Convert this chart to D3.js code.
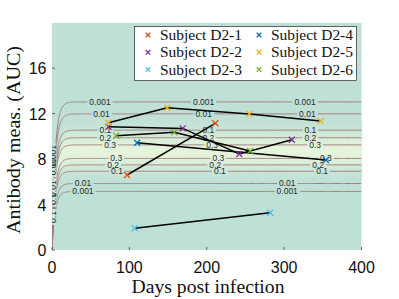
<!DOCTYPE html>
<html>
<head>
<meta charset="utf-8">
<script src="https://cdn.jsdelivr.net/npm/d3@7"></script>
<style>
  body { margin: 0; background: #fff; }
  text { font-family: "Liberation Sans", Arial, sans-serif; }
  .serif { font-family: "Liberation Serif", "Times New Roman", serif; }
</style>
</head>
<body>
<svg id="chart" width="399" height="299"></svg>
<script>
// subjects, measured points (days post infection, AUC)
const subjectNames = ["Subject D2-1", "Subject D2-2", "Subject D2-3", "Subject D2-4", "Subject D2-5", "Subject D2-6"];
const subjectColors = ["#D95319", "#7E2F8E", "#4DBEEE", "#0072BD", "#EDB120", "#77AC30"];
const subjectDays = [[97, 211], [73, 169, 242, 310], [107, 282], [110, 354], [73, 149, 255, 347], [83, 158, 256]];
const subjectAUC = [[6.6, 11.15], [10.85, 10.7, 8.45, 9.7], [1.91, 3.28], [9.44, 7.92], [11.2, 12.52, 11.97, 11.35], [10.06, 10.35, 8.71]];

const xTicks = [0, 100, 200, 300, 400];
const yTicks = [0, 4, 8, 12, 16];

// contour levels and where the labels sit (days)
const levels = [0.001, 0.01, 0.1, 0.2, 0.3];
const levelLabels = ["0.001", "0.01", "0.1", "0.2", "0.3"];
const upperLabelDays = [[62, 196, 327], [64, 196, 330], [69, 202, 334], [69, 202, 334], [75, 207, 340]];
const lowerLabelDays = [[40, 304], [40, 304], [84, 217, 349], [79, 211, 344], [83, 215, 354]];
// labels on the steep part near day 0
const edgeLabelText = ["0.001", "0.01", "0.01", "0.1", "0.1"];
const edgeLabelAUC = [8.3, 7.3, 5.4, 4.5, 2.9];

// model surface (density of AUC over time)
const peak = 0.343, center = 2.94, spread = 0.196, riseDays = 4;

const margin = { left: 52, right: 37.5, top: 22.7, bottom: 49 };
const W = 399, H = 299;
const iw = W - margin.left - margin.right, ih = H - margin.top - margin.bottom;

const x = d3.scaleLinear().domain([0, 400]).range([margin.left, margin.left + iw]);
const y = d3.scaleLinear().domain([0, 20]).range([margin.top + ih, margin.top]);

const svg = d3.select("#chart");

function rise(t) { return 1 - Math.exp(-t / riseDays); }
function density(t, a) {
  const f = rise(t);
  if (f <= 0 || a <= 0) return 0;
  const z = Math.sqrt(a / f);
  return peak * Math.exp(-(z - center) * (z - center) / (2 * spread * spread));
}

// clip
svg.append("clipPath").attr("id", "plotclip")
  .append("rect").attr("x", margin.left).attr("y", margin.top).attr("width", iw).attr("height", ih);

// background shading via d3.contours
const nx = 310, ny = 228;
const grid = new Float64Array(nx * ny);
for (let j = 0; j < ny; j++) {
  const a = 20 * (1 - (j + 0.5) / ny);
  for (let i = 0; i < nx; i++) {
    const t = 400 * (i + 0.5) / nx;
    grid[j * nx + i] = density(t, a);
  }
}
const shadeThresholds = d3.range(0, peak, peak / 48);
const shade = d3.interpolateRgb("#bfe0d6", "#e6f4db");
const proj = d3.geoTransform({
  point(px, py) { this.stream.point(margin.left + px * iw / nx, margin.top + py * ih / ny); }
});
const bg = svg.append("g").attr("clip-path", "url(#plotclip)");
bg.append("rect").attr("x", margin.left).attr("y", margin.top).attr("width", iw).attr("height", ih).attr("fill", shade(0));
bg.selectAll("path")
  .data(d3.contours().size([nx, ny]).thresholds(shadeThresholds)(grid))
  .enter().append("path")
  .attr("d", d3.geoPath(proj))
  .attr("fill", d => shade(d.value / peak))
  .attr("stroke", "none");

// contour lines
const mask = svg.append("mask").attr("id", "gaps").attr("maskUnits", "userSpaceOnUse")
  .attr("x", 0).attr("y", 0).attr("width", W).attr("height", H);
mask.append("rect").attr("width", W).attr("height", H).attr("fill", "#fff");

const tSamples = d3.range(0, 601).map(u => 400 * Math.pow(u / 600, 2.2));
const lineGen = d3.line().x(d => x(d[0])).y(d => y(d[1])).curve(d3.curveLinear);

const contourG = svg.append("g").attr("clip-path", "url(#plotclip)");
const linesG = contourG.append("g").attr("mask", "url(#gaps)");
const labelsG = svg.append("g").attr("clip-path", "url(#plotclip)");

function addLabel(txt, px, py, rot) {
  const lbl = labelsG.append("text")
    .attr("x", 0).attr("y", 0)
    .attr("transform", `translate(${px},${py}) rotate(${rot})`)
    .attr("text-anchor", "middle")
    .attr("dy", "0.35em")
    .attr("font-size", 8.5)
    .attr("fill", "#2a2a2a")
    .text(txt);
  const w = lbl.node().getComputedTextLength();
  mask.append("rect")
    .attr("x", -w / 2 - 2).attr("y", -3.5).attr("width", w + 4).attr("height", 7)
    .attr("transform", `translate(${px},${py}) rotate(${rot})`)
    .attr("fill", "#000");
}

levels.forEach((L, k) => {
  const d = spread * Math.sqrt(2 * Math.log(peak / L));
  const up = (center + d) * (center + d);
  const lo = (center - d) * (center - d);
  [up, lo].forEach(Y => {
    linesG.append("path")
      .attr("d", lineGen(tSamples.map(t => [t, rise(t) * Y])))
      .attr("fill", "none")
      .attr("stroke", "#a07a7a")
      .attr("stroke-width", 1);
  });
  upperLabelDays[k].forEach(t => addLabel(levelLabels[k], x(t), y(rise(t) * up), 0));
  lowerLabelDays[k].forEach(t => addLabel(levelLabels[k], x(t), y(rise(t) * lo), 0));
});
edgeLabelText.forEach((txt, k) => addLabel(txt, x(1.2), y(edgeLabelAUC[k]), -90));

// ticks (inside)
const tickG = svg.append("g").attr("stroke", "#4d4d4d").attr("stroke-width", 0.8);
xTicks.forEach(v => tickG.append("line").attr("x1", x(v)).attr("x2", x(v)).attr("y1", y(0)).attr("y2", y(0) - 3));
yTicks.forEach(v => tickG.append("line").attr("x1", x(0)).attr("x2", x(0) + 3).attr("y1", y(v)).attr("y2", y(v)));

svg.append("g").selectAll("text").data(xTicks).enter().append("text")
  .attr("x", d => x(d)).attr("y", 273).attr("text-anchor", "middle")
  .attr("font-size", 16).attr("fill", "#111").text(d => d);
svg.append("g").selectAll("text").data(yTicks).enter().append("text")
  .attr("x", 46.5).attr("y", d => y(d) + 6).attr("text-anchor", "end")
  .attr("font-size", 16).attr("fill", "#111").text(d => d);

// axis titles
svg.append("text").attr("class", "serif")
  .attr("x", 208).attr("y", 293).attr("text-anchor", "middle")
  .attr("font-size", 18).attr("fill", "#111")
  .attr("textLength", 153).attr("lengthAdjust", "spacingAndGlyphs")
  .text("Days post infection");
svg.append("text").attr("class", "serif")
  .attr("transform", "translate(20,140) rotate(-90)")
  .attr("text-anchor", "middle")
  .attr("font-size", 19).attr("fill", "#111")
  .attr("textLength", 188).attr("lengthAdjust", "spacingAndGlyphs")
  .text("Antibody meas. (AUC)");

// subject trajectories
function cross(g, cx, cy, color, r) {
  g.append("path")
    .attr("d", `M${cx - r},${cy - r}L${cx + r},${cy + r}M${cx - r},${cy + r}L${cx + r},${cy - r}`)
    .attr("stroke", color).attr("stroke-width", 1.3).attr("fill", "none");
}
const dataG = svg.append("g").attr("clip-path", "url(#plotclip)");
subjectNames.forEach((name, s) => {
  const pts = subjectDays[s].map((t, i) => [t, subjectAUC[s][i]]);
  dataG.append("path")
    .attr("d", lineGen(pts))
    .attr("fill", "none").attr("stroke", "#000").attr("stroke-width", 1.5);
});
subjectNames.forEach((name, s) => {
  subjectDays[s].forEach((t, i) => cross(dataG, x(t), y(subjectAUC[s][i]), subjectColors[s], 3));
});

// legend
const lg = svg.append("g");
lg.append("rect").attr("x", 134.5).attr("y", 26.5).attr("width", 222).attr("height", 54)
  .attr("fill", "#fff").attr("stroke", "#262626").attr("stroke-width", 0.7);
subjectNames.forEach((name, s) => {
  const col = Math.floor(s / 3), row = s % 3;
  const mx = col === 0 ? 148 : 259;
  const my = 35 + row * 17.3;
  cross(lg, mx, my, subjectColors[s], 2.3);
  lg.append("text").attr("class", "serif")
    .attr("x", mx + 12).attr("y", my + 5)
    .attr("font-size", 15).attr("fill", "#111")
    .attr("textLength", 82).attr("lengthAdjust", "spacingAndGlyphs")
    .text(name);
});
</script>
</body>
</html>
